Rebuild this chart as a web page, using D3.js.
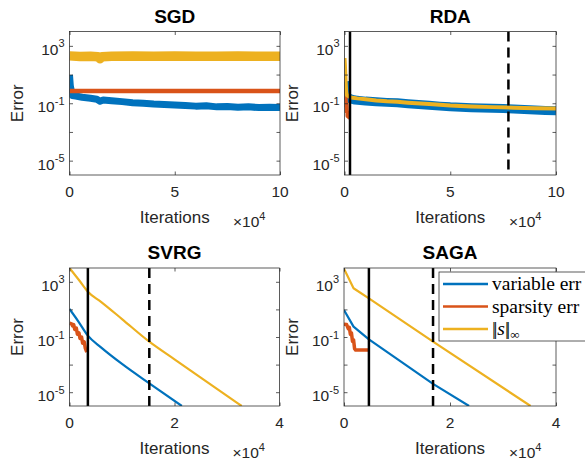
<!doctype html>
<html lang="en">
<head>
<meta charset="utf-8">
<script src="https://cdn.jsdelivr.net/npm/d3@7"></script>
<style type="text/css">
body { margin: 0; background: #ffffff; }
svg text { font-family: "Liberation Sans", Arial, sans-serif; fill: #262626; }
svg .legend text { font-family: "Liberation Serif", "Times New Roman", serif; fill: #000000; }
</style>
</head>
<body>
<svg width="585" height="461"></svg>
<script>

// SGD
var sgdVarX = [0, 0.04, 0.13, 0.3, 0.6, 1.0, 1.3, 1.45, 1.6, 2, 2.5, 3, 3.5, 4, 4.5, 5, 5.5, 6, 6.5, 7, 7.5, 8, 8.5, 9, 9.5, 10];
var sgdVarErr = [9.1, 1.6, 0.35, 0.32, 0.26, 0.22, 0.19, 0.14, 0.17, 0.15, 0.13, 0.11, 0.10, 0.089, 0.083, 0.076, 0.071, 0.063, 0.066, 0.056, 0.060, 0.052, 0.056, 0.050, 0.052, 0.050];
var sgdSpX = [0, 2, 4, 6, 8, 10];
var sgdSpErr = [0.72, 0.71, 0.70, 0.71, 0.70, 0.70];
var sgdInfX = [0, 0.5, 1, 1.35, 1.45, 1.55, 2, 3, 4, 5, 6, 7, 8, 9, 10];
var sgdInf = [200, 180, 185, 175, 130, 175, 190, 195, 185, 195, 185, 190, 195, 185, 190];

// RDA
var rdaVarX = [0, 0.1, 0.25, 0.5, 1, 1.5, 2, 2.5, 3, 3.5, 4, 4.5, 5, 5.5, 6, 6.5, 7, 7.5, 8, 8.5, 9, 9.5, 10];
var rdaVarErr = [3.16, 0.316, 0.209, 0.166, 0.141, 0.126, 0.115, 0.107, 0.0933, 0.0832, 0.0724, 0.0631, 0.0562, 0.0525, 0.0490, 0.0468, 0.0447, 0.0427, 0.0398, 0.0372, 0.0339, 0.0316, 0.0302];
var rdaSpX = [0, 0.03, 0.05, 0.07, 0.09, 0.11, 0.13, 0.16, 0.2, 0.26];
var rdaSpErr = [0.79, 0.5, 0.063, 0.25, 0.025, 0.1, 0.0126, 0.025, 0.01, 0.0089];
var rdaInfX = [0, 0.02, 0.05, 0.08, 0.12, 0.3, 0.6, 1, 1.5, 2, 2.5, 3, 4, 5, 6, 7, 8, 9, 10];
var rdaInf = [141, 39.8, 3.98, 0.631, 0.355, 0.251, 0.219, 0.191, 0.158, 0.138, 0.126, 0.110, 0.0871, 0.0692, 0.0603, 0.0537, 0.0490, 0.0457, 0.0427];
var rdaMarks = [0.26, 7.75];

// SVRG
var svrgVarX = [0, 0.17, 0.35, 0.6, 1.0, 1.52, 2.14];
var svrgVarErr = [10.7, 1.32, 0.126, 0.0178, 1.12e-3, 4.37e-5, 1e-6];
var svrgSpX = [0, 0.04, 0.06, 0.08, 0.1, 0.13, 0.15, 0.18, 0.2, 0.23, 0.25, 0.28, 0.3, 0.33];
var svrgSpErr = [1.0, 0.89, 0.63, 0.79, 0.355, 0.447, 0.158, 0.2, 0.079, 0.1, 0.0355, 0.0447, 0.0158, 0.0079];
var svrgInfX = [0, 0.18, 0.35, 0.6, 1.0, 1.52, 2.0, 2.5, 3.28];
var svrgInf = [1e4, 1349, 191, 35.5, 2.0, 0.0457, 0.0024, 1.15e-4, 1e-6];
var svrgMarks = [0.35, 1.52];

// SAGA
var sagaVarX = [0, 0.18, 0.47, 1.68, 2.36];
var sagaVarErr = [9.12, 0.562, 0.0676, 3.98e-5, 1e-6];
var sagaSpX = [0, 0.05, 0.08, 0.1, 0.12, 0.14, 0.16, 0.18, 0.2, 0.22, 0.47];
var sagaSpErr = [0.83, 0.79, 0.4, 0.5, 0.158, 0.2, 0.05, 0.063, 0.0141, 0.0112, 0.0112];
var sagaInfX = [0, 0.18, 0.47, 1.68, 3.52];
var sagaInf = [8913, 339, 63.1, 0.0457, 1e-6];
var sagaMarks = [0.47, 1.68];

var legendLabels = ['variable err', 'sparsity err', 's'];
var colors = ['#0072BD', '#D95319', '#EDB120'];
var yDomain = [1e-6, 1e4];
var yTicks = [1e-5, 1e-3, 1e-1, 1e1, 1e3];
var yLabels = [1e-5, 1e-1, 1e3];

var svg = d3.select('svg');

var panels = [
    { title: 'SGD', x0: 69.5, x1: 280, y0: 31.5, y1: 175, xMax: 10, xTicks: [0, 5, 10],
      series: [[sgdVarX, sgdVarErr, 7], [sgdSpX, sgdSpErr, 4.5], [sgdInfX, sgdInf, 9.5]], marks: null },
    { title: 'RDA', x0: 344.5, x1: 556, y0: 31.5, y1: 175, xMax: 10, xTicks: [0, 5, 10],
      series: [[rdaVarX, rdaVarErr, 9], [rdaSpX, rdaSpErr, 3.5], [rdaInfX, rdaInf, 4]], marks: rdaMarks },
    { title: 'SVRG', x0: 69.5, x1: 279.5, y0: 268, y1: 406, xMax: 4, xTicks: [0, 2, 4],
      series: [[svrgVarX, svrgVarErr, 2.2], [svrgSpX, svrgSpErr, 3.5], [svrgInfX, svrgInf, 2.2]], marks: svrgMarks },
    { title: 'SAGA', x0: 344, x1: 556, y0: 268, y1: 406, xMax: 4, xTicks: [0, 2, 4],
      series: [[sagaVarX, sagaVarErr, 2.2], [sagaSpX, sagaSpErr, 3.5], [sagaInfX, sagaInf, 2.2]], marks: sagaMarks, legend: true }
];

panels.forEach(function(p, pi) {
    var x = d3.scaleLinear().domain([0, p.xMax]).range([p.x0, p.x1]);
    var y = d3.scaleLog().domain(yDomain).range([p.y1, p.y0]);
    var g = svg.append('g');

    g.append('clipPath').attr('id', 'clip' + pi)
        .append('rect')
        .attr('x', p.x0).attr('y', p.y0)
        .attr('width', p.x1 - p.x0).attr('height', p.y1 - p.y0);

    var plot = g.append('g').attr('clip-path', 'url(#clip' + pi + ')');

    p.series.forEach(function(s, si) {
        var pts = s[0].map(function(v, i) { return [v, s[1][i]]; });
        var line = d3.line()
            .x(function(d) { return x(d[0]); })
            .y(function(d) { return y(d[1]); })
            .curve(pi == 2 && si != 1 ? d3.curveMonotoneX : d3.curveLinear);
        plot.append('path')
            .attr('d', line(pts))
            .attr('fill', 'none')
            .attr('stroke', colors[si])
            .attr('stroke-width', s[2])
            .attr('stroke-linejoin', 'round');
    });

    if (p.marks) {
        p.marks.forEach(function(m, mi) {
            plot.append('line')
                .attr('x1', x(m)).attr('x2', x(m))
                .attr('y1', p.y0).attr('y2', p.y1)
                .attr('stroke', '#000')
                .attr('stroke-width', 2.5)
                .attr('stroke-dasharray', mi == 1 ? '10,6' : null);
        });
    }

    // ticks on all four sides, pointing in
    var tick = 3.5;
    g.append('g').attr('transform', 'translate(0,' + p.y1 + ')')
        .call(d3.axisBottom(x).tickValues(p.xTicks).tickSize(-tick).tickFormat(''));
    g.append('g').attr('transform', 'translate(0,' + p.y0 + ')')
        .call(d3.axisTop(x).tickValues(p.xTicks).tickSize(-tick).tickFormat(''));
    g.append('g').attr('transform', 'translate(' + p.x0 + ',0)')
        .call(d3.axisLeft(y).tickValues(yTicks).tickSize(-tick).tickFormat(''));
    g.append('g').attr('transform', 'translate(' + p.x1 + ',0)')
        .call(d3.axisRight(y).tickValues(yTicks).tickSize(-tick).tickFormat(''));
    g.selectAll('.domain').remove();
    g.selectAll('.tick line').attr('stroke', '#262626').attr('stroke-width', 0.75);

    g.append('rect')
        .attr('x', p.x0).attr('y', p.y0)
        .attr('width', p.x1 - p.x0).attr('height', p.y1 - p.y0)
        .attr('fill', 'none').attr('stroke', '#262626').attr('stroke-width', 0.75);

    // tick labels
    yLabels.forEach(function(v) {
        var e = Math.round(Math.log10(v));
        var t = g.append('text')
            .attr('x', p.x0 - 5).attr('y', y(v) + 9)
            .attr('text-anchor', 'end')
            .style('font-size', '15.5px')
            .text('10');
        t.append('tspan').attr('dy', -7.5).style('font-size', '11px')
            .text(e < 0 ? '-' + Math.abs(e) : e);
    });
    p.xTicks.forEach(function(v) {
        g.append('text')
            .attr('x', x(v)).attr('y', p.y1 + 22)
            .attr('text-anchor', 'middle')
            .style('font-size', '15.5px')
            .text(v);
    });

    g.append('text')
        .attr('x', (p.x0 + p.x1) / 2).attr('y', p.y1 + 47.5)
        .attr('text-anchor', 'middle')
        .style('font-size', '17px')
        .text('Iterations');

    var ex = g.append('text')
        .attr('x', p.x1 - 47).attr('y', p.y1 + 52)
        .style('font-size', '15.5px')
        .text('\u00d710');
    ex.append('tspan').attr('dy', -7.5).style('font-size', '11px').text('4');

    g.append('text')
        .attr('transform', 'translate(' + (p.x0 - 46.5) + ',' + ((p.y0 + p.y1) / 2) + ') rotate(-90)')
        .attr('text-anchor', 'middle')
        .style('font-size', '17px')
        .text('Error');

    g.append('text')
        .attr('x', (p.x0 + p.x1) / 2).attr('y', p.y0 - 9)
        .attr('text-anchor', 'middle')
        .style('font-size', '19px')
        .style('font-weight', 'bold')
        .style('fill', '#000')
        .text(p.title);

    if (p.legend) {
        var lg = svg.append('g').attr('class', 'legend');
        lg.append('rect')
            .attr('x', 439).attr('y', 272).attr('width', 160).attr('height', 69)
            .attr('fill', '#fff').attr('stroke', '#262626').attr('stroke-width', 0.75);
        legendLabels.forEach(function(lab, i) {
            var ly = 284 + i * 22.5;
            lg.append('line')
                .attr('x1', 443).attr('x2', 488).attr('y1', ly).attr('y2', ly)
                .attr('stroke', colors[i]).attr('stroke-width', 2.5);
            var t = lg.append('text').attr('x', 492).attr('y', ly + 6).style('font-size', '19.5px');
            if (i < 2) {
                t.text(lab);
            } else {
                t.append('tspan').text('|');
                t.append('tspan').attr('dx', -2.5).text('|');
                t.append('tspan').style('font-style', 'italic').text(lab);
                t.append('tspan').text('|');
                t.append('tspan').attr('dx', -2.5).text('|');
                t.append('tspan').attr('dy', 4).style('font-size', '13px').text('\u221e');
            }
        });
    }
});
</script>
</body>
</html>
